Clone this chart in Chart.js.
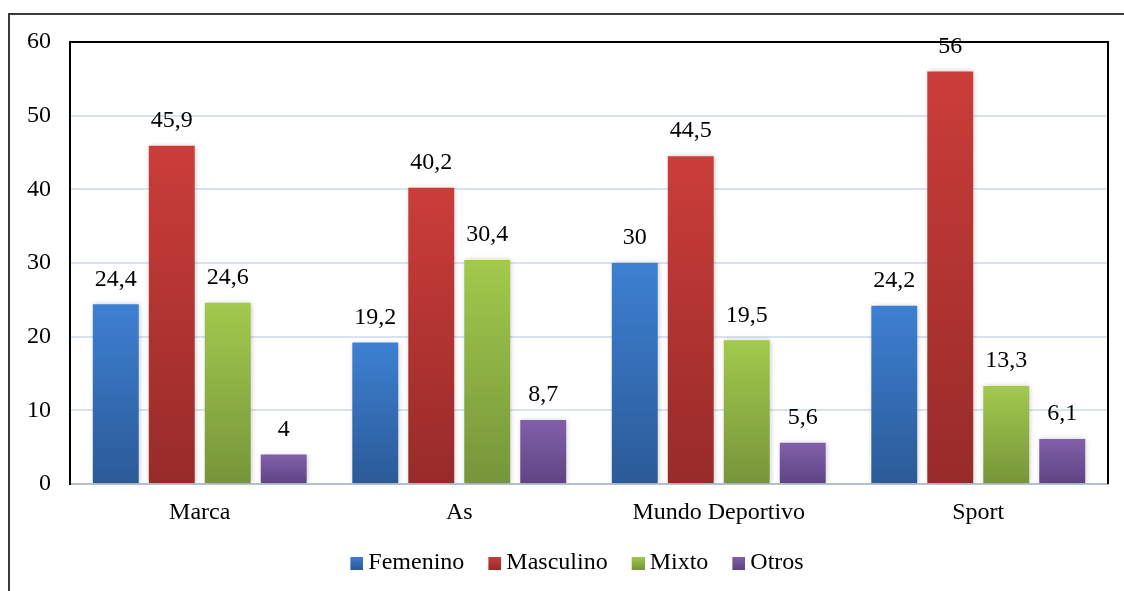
<!DOCTYPE html>
<html>
<head>
<meta charset="utf-8">
<script src="https://cdn.jsdelivr.net/npm/chart.js@4.4.1/dist/chart.umd.min.js"></script>
<style>
    html, body { margin: 0; padding: 0; background: #fff; }
    #wrap { width: 1124px; height: 591px; }
</style>
</head>
<body>
<div id="wrap"><canvas id="myChart" width="1124" height="591"></canvas></div>
<script>
const categorias = ['Marca', 'As', 'Mundo Deportivo', 'Sport'];
const femenino = [24.4, 19.2, 30, 24.2];
const masculino = [45.9, 40.2, 44.5, 56];
const mixto = [24.6, 30.4, 19.5, 13.3];
const otros = [4, 8.7, 5.6, 6.1];
const yTicks = [0, 10, 20, 30, 40, 50, 60];

const fuente = "'Liberation Serif', 'Times New Roman', serif";

// colores arriba / abajo de cada barra
const colores = {
    femenino: ['#3d80d2', '#2b5a97'],
    masculino: ['#cb3d3a', '#972b29'],
    mixto: ['#a3c94d', '#76953a'],
    otros: ['#8160aa', '#5e4483']
};

function degradado(par) {
    return function (context) {
        const chart = context.chart;
        if (!chart.chartArea || context.parsed === undefined) return par[0];
        const y = chart.scales.y;
        const top = y.getPixelForValue(context.parsed.y);
        const bottom = y.getPixelForValue(0);
        if (!isFinite(top) || top === bottom) return par[0];
        const g = chart.ctx.createLinearGradient(0, top, 0, bottom);
        g.addColorStop(0, par[0]);
        g.addColorStop(1, par[1]);
        return g;
    };
}

// cuadradito de la leyenda, pegado a la derecha para acercarlo al texto
function cuadro(par) {
    const c = document.createElement('canvas');
    c.width = 26;
    c.height = 13;
    const cx = c.getContext('2d');
    const g = cx.createLinearGradient(0, 0, 0, 13);
    g.addColorStop(0, par[0]);
    g.addColorStop(1, par[1]);
    cx.fillStyle = g;
    cx.fillRect(13, 0, 13, 13);
    return c;
}

// etiquetas de valores encima de las barras
const etiquetas = {
    id: 'etiquetas',
    afterDatasetsDraw(chart) {
        const ctx = chart.ctx;
        ctx.save();
        ctx.font = '24px ' + fuente;
        ctx.fillStyle = '#000';
        ctx.textAlign = 'center';
        ctx.textBaseline = 'middle';
        chart.data.datasets.forEach((ds, i) => {
            const meta = chart.getDatasetMeta(i);
            meta.data.forEach((bar, j) => {
                const txt = String(ds.data[j]).replace('.', ',');
                ctx.fillText(txt, bar.x, bar.y - 25);
            });
        });
        ctx.restore();
    }
};

// marco exterior, borde del área y sombras
const marco = {
    id: 'marco',
    afterLayout(chart) {
        // la leyenda del original queda algo a la derecha
        chart.legend.left += 20;
        chart.legend.right += 20;
    },
    beforeDatasetsDraw(chart) {
        const ctx = chart.ctx;
        ctx.save();
        ctx.shadowColor = 'rgba(0,0,0,0.22)';
        ctx.shadowBlur = 5;
        ctx.shadowOffsetX = 1;
        ctx.shadowOffsetY = 0;
    },
    afterDatasetsDraw(chart) {
        chart.ctx.restore();
    },
    afterDraw(chart) {
        const ctx = chart.ctx;
        const a = chart.chartArea;
        ctx.save();
        ctx.strokeStyle = '#000';
        ctx.lineWidth = 2;
        ctx.beginPath();
        ctx.moveTo(a.left, a.top);
        ctx.lineTo(a.right, a.top);
        ctx.lineTo(a.right, a.bottom);
        ctx.stroke();
        ctx.strokeStyle = '#3a3a3a';
        ctx.beginPath();
        ctx.moveTo(9, chart.height);
        ctx.lineTo(9, 14);
        ctx.lineTo(chart.width, 14);
        ctx.stroke();
        ctx.restore();
    }
};

const ctx = document.getElementById('myChart').getContext('2d');
const myChart = new Chart(ctx, {
    type: 'bar',
    data: {
        labels: categorias,
        datasets: [
            { label: 'Femenino', data: femenino, backgroundColor: degradado(colores.femenino) },
            { label: 'Masculino', data: masculino, backgroundColor: degradado(colores.masculino) },
            { label: 'Mixto', data: mixto, backgroundColor: degradado(colores.mixto) },
            { label: 'Otros', data: otros, backgroundColor: degradado(colores.otros) }
        ]
    },
    plugins: [marco, etiquetas],
    options: {
        responsive: false,
        animation: false,
        devicePixelRatio: 1,
        categoryPercentage: 0.863,
        barPercentage: 0.82,
        layout: { padding: { left: 0, right: 16, top: 42, bottom: 6 } },
        plugins: {
            tooltip: { enabled: false },
            legend: {
                position: 'bottom',
                labels: {
                    usePointStyle: true,
                    boxWidth: 12,
                    boxHeight: 12,
                    padding: 18,
                    color: '#000',
                    font: { family: fuente, size: 24 },
                    generateLabels(chart) {
                        return chart.data.datasets.map((ds, i) => {
                            const c = Object.values(colores)[i];
                            return {
                                text: ds.label,
                                pointStyle: cuadro(c),
                                fillStyle: c[0],
                                strokeStyle: c[1],
                                lineWidth: 0,
                                datasetIndex: i
                            };
                        });
                    }
                }
            }
        },
        scales: {
            x: {
                grid: { display: false, drawTicks: false },
                border: { display: true, color: '#b4c0d0', width: 2 },
                ticks: { color: '#000', padding: 14, font: { family: fuente, size: 24 } },
                afterFit(scale) { scale.height = 49; }
            },
            y: {
                min: 0,
                max: 60,
                afterBuildTicks(scale) { scale.ticks = yTicks.map(v => ({ value: v })); },
                grid: {
                    drawTicks: false,
                    lineWidth: 2,
                    color: c => (c.tick.value === 0 || c.tick.value === 60) ? 'rgba(0,0,0,0)' : '#d9e3f0'
                },
                border: { display: true, color: '#000', width: 2 },
                ticks: { color: '#000', padding: 19, font: { family: fuente, size: 24 } },
                afterFit(scale) { scale.width = 70; }
            }
        }
    }
});
</script>
</body>
</html>
